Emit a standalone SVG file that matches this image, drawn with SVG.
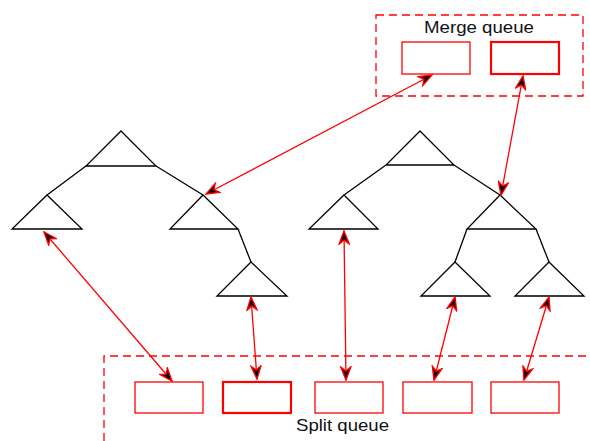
<svg xmlns="http://www.w3.org/2000/svg" width="590" height="441" viewBox="0 0 590 441">
  <style>
    .tri { fill: #fff; stroke: #000; stroke-width: 1.3; stroke-linejoin: miter; }
    .edge { fill: none; stroke: #000; stroke-width: 1.3; }
    .queue { fill: none; stroke: #ff0000; stroke-width: 1.3; stroke-dasharray: 8 5; }
    .slot { fill: #fff; stroke: #ff0000; stroke-width: 1.3; }
    .slot.bold { stroke-width: 2.2; }
    .link { fill: none; stroke: #ff0000; stroke-width: 1.3; marker-start: url(#tip); marker-end: url(#tip); }
    .label { font-family: "Liberation Sans", Arial, sans-serif; font-size: 16.5px; fill: #111; text-anchor: middle; }
  </style>
  <defs>
    <marker id="tip" viewBox="0 0 15 12" refX="14" refY="6" markerWidth="15" markerHeight="12" markerUnits="userSpaceOnUse" orient="auto-start-reverse">
      <path d="M1,1 L14,6 L1,11 L5,6 Z" fill="#000" stroke="#ff0000" stroke-width="1.4" stroke-linejoin="miter"/>
    </marker>
  </defs>

  <rect width="590" height="441" fill="#fff"/>

  <!-- queue frames -->
  <g id="merge-queue">
    <rect class="queue" x="376" y="15" width="207" height="81"/>
    <text class="label" x="479" y="33" textLength="110" lengthAdjust="spacingAndGlyphs">Merge queue</text>
    <rect class="slot" x="402" y="42" width="68" height="32"/>
    <rect class="slot bold" x="491" y="42" width="68" height="32"/>
  </g>

  <g id="split-queue">
    <path class="queue" d="M104,441 L104,356 L595,356"/>
    <text class="label" x="342.5" y="431" textLength="93" lengthAdjust="spacingAndGlyphs">Split queue</text>
    <rect class="slot" x="135" y="382" width="68" height="31"/>
    <rect class="slot bold" x="223" y="382" width="68" height="31"/>
    <rect class="slot" x="315" y="382" width="68" height="31"/>
    <rect class="slot" x="403" y="382" width="69" height="31"/>
    <rect class="slot" x="491" y="382" width="68" height="31"/>
  </g>

  <!-- left tree -->
  <g id="tree-left">
    <path class="edge" d="M86,166 L47,195 M156,166 L203,195 M238,229 L251,262"/>
    <path class="tri" d="M121,131 L156,166 L86,166 Z"/>
    <path class="tri" d="M47,195 L82,229 L12,229 Z"/>
    <path class="tri" d="M203,195 L238,229 L170,229 Z"/>
    <path class="tri" d="M251,262 L287,296 L217,296 Z"/>
  </g>

  <!-- right tree -->
  <g id="tree-right">
    <path class="edge" d="M386,165 L344,195 M454,165 L500,195 M467,229 L455,262 M536,229 L549,262"/>
    <path class="tri" d="M420,131 L454,165 L386,165 Z"/>
    <path class="tri" d="M344,195 L378,229 L309,229 Z"/>
    <path class="tri" d="M500,195 L536,229 L467,229 Z"/>
    <path class="tri" d="M455,262 L490,296 L421,296 Z"/>
    <path class="tri" d="M549,262 L584,296 L515,296 Z"/>
  </g>

  <!-- queue links -->
  <g id="links">
    <line class="link" x1="44" y1="232" x2="172" y2="381"/>
    <line class="link" x1="251" y1="297" x2="257" y2="379"/>
    <line class="link" x1="344" y1="231" x2="346" y2="380"/>
    <line class="link" x1="455" y1="297" x2="434" y2="380"/>
    <line class="link" x1="549" y1="297" x2="524" y2="380"/>
    <line class="link" x1="206" y1="194" x2="432" y2="75"/>
    <line class="link" x1="501" y1="195" x2="523" y2="76"/>
  </g>
</svg>
